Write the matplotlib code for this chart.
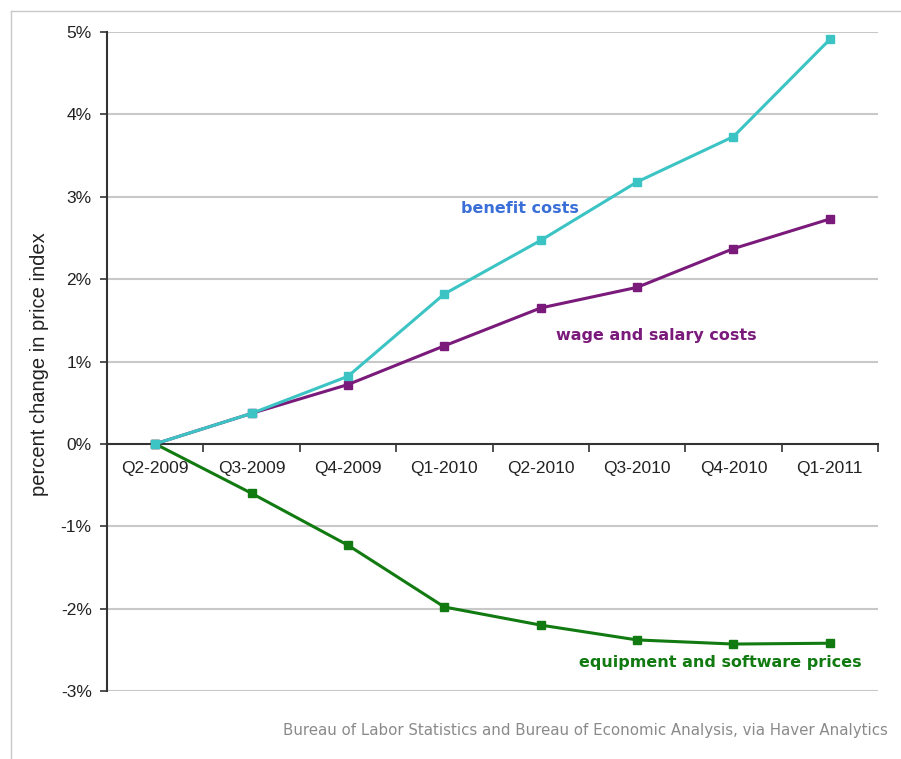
import matplotlib
matplotlib.use("Agg")
import matplotlib.pyplot as plt
from matplotlib.lines import Line2D
from matplotlib.ticker import FixedLocator, FuncFormatter

plt.rcParams['font.family'] = ['Liberation Sans', 'DejaVu Sans']

categories = ["Q2-2009", "Q3-2009", "Q4-2009", "Q1-2010", "Q2-2010", "Q3-2010", "Q4-2010", "Q1-2011"]
benefit_costs = [0.0, 0.37, 0.82, 1.82, 2.47, 3.18, 3.73, 4.91]
wage_salary_costs = [0.0, 0.37, 0.72, 1.19, 1.65, 1.90, 2.37, 2.73]
equipment_software = [0.0, -0.60, -1.23, -1.98, -2.20, -2.38, -2.43, -2.42]
y_ticks = [-3, -2, -1, 0, 1, 2, 3, 4, 5]

W, H = 901, 759
fig = plt.figure(figsize=(W / 100, H / 100), dpi=100)
fig.patch.set_facecolor('white')

# outer frame
fig.add_artist(Line2D([11 / W, 11 / W], [0, 1 - 11 / H], transform=fig.transFigure, color='#c8c8c8', lw=1))
fig.add_artist(Line2D([11 / W, 1], [1 - 11 / H, 1 - 11 / H], transform=fig.transFigure, color='#c8c8c8', lw=1))

left, right = 107 / W, 878 / W
top, bottom = 1 - 32 / H, 1 - 691 / H
ax = fig.add_axes([left, bottom, right - left, top - bottom])

x = list(range(len(categories)))
ax.set_xlim(-0.5, len(categories) - 0.5)
ax.set_ylim(-3, 5)

for v in y_ticks:
    if v != 0:
        ax.axhline(v, color='#c8c8c8', lw=1.5, zorder=0)

ax.plot(x, equipment_software, color='#117a11', lw=2.2, marker='s', ms=6, zorder=3)
ax.plot(x, wage_salary_costs, color='#7a1a7a', lw=2.2, marker='s', ms=6, zorder=3)
ax.plot(x, benefit_costs, color='#3cc4c4', lw=2.2, marker='s', ms=6, zorder=4)

for s in ['top', 'right']:
    ax.spines[s].set_visible(False)
ax.spines['bottom'].set_position(('data', 0))
ax.spines['bottom'].set_color('#333333')
ax.spines['bottom'].set_linewidth(1.5)
ax.spines['left'].set_color('#333333')
ax.spines['left'].set_linewidth(1.5)

ax.set_yticks(y_ticks)
ax.yaxis.set_major_formatter(FuncFormatter(lambda v, p: f"{int(v)}%"))
ax.tick_params(axis='y', direction='out', length=5, width=1.2, color='#333333',
               labelsize=12.5, labelcolor='#222222', pad=6)

ax.set_xticks(x)
ax.set_xticklabels(categories)
ax.xaxis.set_minor_locator(FixedLocator([i - 0.5 for i in range(len(categories) + 1)]))
ax.tick_params(axis='x', which='major', length=0, labelsize=12.5, labelcolor='#222222', pad=12)
ax.tick_params(axis='x', which='minor', direction='out', length=6, width=1.2, color='#333333')

fig.text(40 / W, 1 - 364 / H, "percent change in price index", rotation=90, ha='center', va='center',
         fontsize=14.5, color='#222222')

lab_font = dict(family='DejaVu Sans', fontsize=11.5, fontweight='bold', ha='center', va='center')
ax.text(3.78, 2.86, "benefit costs", color='#3a6fd8', **lab_font)
ax.text(5.2, 1.31, "wage and salary costs", color='#7a1a7a', **lab_font)
ax.text(5.86, -2.66, "equipment and software prices", color='#117a11', **lab_font)

fig.text(283 / W, 1 - 731 / H, "Bureau of Labor Statistics and Bureau of Economic Analysis, via Haver Analytics",
         ha='left', va='center', fontsize=10.85, color='#8a8a8a', family='DejaVu Sans')

fig.savefig("out.png", dpi=100, facecolor='white')
